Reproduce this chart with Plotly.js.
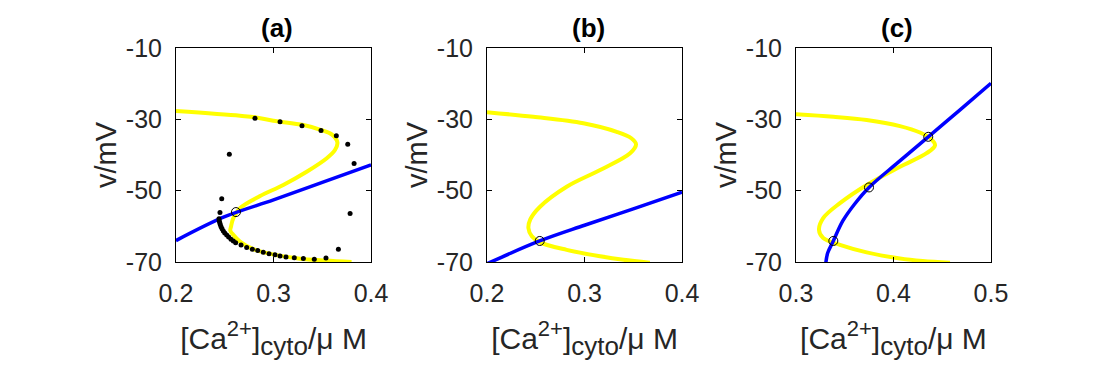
<!DOCTYPE html>
<html>
<head>
<meta charset="utf-8">
<script src="https://cdn.plot.ly/plotly-3.0.1.min.js"></script>
<style>
  html, body { margin: 0; padding: 0; background: #fff; }
  #chart { width: 1104px; height: 372px; }
</style>
</head>
<body>
<div id="chart"></div>
<script>
// axis ticks
const vTicks = [-10, -30, -50, -70];
const vTickText = ['-10', '-30', '-50', '-70'];
const caTicksAB = [0.2, 0.3, 0.4];
const caTicksC = [0.3, 0.4, 0.5];
const panelTitles = ['(a)', '(b)', '(c)'];

// (a) Ca nullcline (yellow), v nullcline (blue), trajectory dots, equilibrium
const yellowA_ca = [0.200, 0.2656, 0.281, 0.2998, 0.3306, 0.349, 0.360, 0.3655, 0.363, 0.3546, 0.334, 0.310, 0.2862, 0.2656, 0.2588, 0.2564, 0.2557, 0.2588, 0.2656, 0.2776, 0.2981, 0.3254, 0.3528, 0.380];
const yellowA_v = [-27.7, -29.0, -29.4, -30.4, -31.6, -33.0, -34.3, -36.5, -38.6, -40.9, -44.7, -48.4, -51.5, -54.9, -57.7, -60.1, -61.2, -62.4, -64.3, -66.2, -67.8, -69.0, -69.6, -70.0];
const blueA_ca = [0.2, 0.25, 0.3, 0.35, 0.4];
const blueA_v = [-64.0, -57.3, -52.6, -47.7, -42.8];
const dotsA_ca = [0.2547, 0.2469, 0.2451, 0.2441, 0.2443, 0.2448, 0.2454, 0.2462, 0.2472, 0.2485, 0.2500, 0.252, 0.2540, 0.2564, 0.2588, 0.2612, 0.2667, 0.2725, 0.2783, 0.2838, 0.2895, 0.2954, 0.3015, 0.3067, 0.3128, 0.3213, 0.3306, 0.3418, 0.3538, 0.3665, 0.3785, 0.3826, 0.3761, 0.3644, 0.3487, 0.3292, 0.3067, 0.281];
const dotsA_v = [-39.8, -52.3, -56.1, -57.9, -58.4, -58.9, -59.5, -60.1, -60.7, -61.3, -61.9, -62.4, -63.0, -63.6, -64.1, -64.6, -65.2, -65.9, -66.4, -66.8, -67.3, -67.7, -68.0, -68.3, -68.6, -68.8, -69.0, -69.2, -68.9, -66.4, -56.4, -42.4, -37.0, -34.6, -33.1, -31.8, -30.7, -29.7];
const eqA_ca = [0.2615];
const eqA_v = [-56.0];

// (b)
const yellowB_ca = [0.200, 0.2475, 0.2988, 0.333, 0.348, 0.3528, 0.3467, 0.316, 0.2817, 0.2544, 0.2445, 0.2425, 0.2460, 0.2544, 0.2817, 0.316, 0.340, 0.367];
const yellowB_v = [-28.0, -29.3, -31.1, -33.5, -35.3, -37.0, -39.5, -44.2, -48.9, -54.5, -58.0, -60.5, -62.8, -64.5, -66.6, -68.4, -69.4, -70.2];
const blueB_ca = [0.2, 0.254, 0.3, 0.35, 0.4];
const blueB_v = [-70.5, -64.1, -59.7, -55.1, -50.4];
const eqB_ca = [0.2541];
const eqB_v = [-64.1];

// (c)
const yellowC_ca = [0.300, 0.3383, 0.3725, 0.4067, 0.4272, 0.4390, 0.4426, 0.434, 0.4067, 0.3725, 0.3451, 0.3279, 0.3236, 0.3279, 0.3451, 0.3725, 0.4067, 0.430, 0.458];
const yellowC_v = [-28.6, -29.3, -30.2, -31.9, -33.7, -35.6, -37.3, -39.5, -43.3, -48.4, -53.5, -57.7, -61.0, -63.3, -65.2, -67.3, -69.0, -69.7, -70.2];
const blueC_ca = [0.3305, 0.3325, 0.3383, 0.348, 0.360, 0.3749, 0.405, 0.4357, 0.468, 0.5];
const blueC_v = [-70.5, -67.5, -64.1, -58.5, -53.8, -49.1, -42.0, -34.9, -27.4, -19.9];
const eqC_ca = [0.3383, 0.3749, 0.4357];
const eqC_v = [-64.1, -49.1, -34.9];

const YELLOW = '#ffff00';
const BLUE = '#0000ff';
const FONT = '"Liberation Sans", Arial, sans-serif';
const X_TITLE = '[Ca<sup><span style="font-size:22px">2+</span></sup>]' +
  '<sub><span style="font-size:26px">cyto</span></sub>/μ M';

function curve(x, y, color, width, ax) {
  return {
    x: x, y: y, xaxis: 'x' + ax, yaxis: 'y' + ax,
    type: 'scatter', mode: 'lines',
    line: { color: color, width: width, shape: 'spline', smoothing: 1 },
    hoverinfo: 'skip', showlegend: false
  };
}
function circles(x, y, ax) {
  return {
    x: x, y: y, xaxis: 'x' + ax, yaxis: 'y' + ax,
    type: 'scatter', mode: 'markers',
    marker: { symbol: 'circle-open', size: 9, color: '#000', line: { width: 1, color: '#000' } },
    showlegend: false
  };
}

const traces = [
  curve(yellowA_ca, yellowA_v, YELLOW, 4, ''),
  curve(blueA_ca, blueA_v, BLUE, 3.5, ''),
  {
    x: dotsA_ca, y: dotsA_v, type: 'scatter', mode: 'markers',
    marker: { color: '#000', size: 5 }, showlegend: false
  },
  circles(eqA_ca, eqA_v, ''),
  curve(yellowB_ca, yellowB_v, YELLOW, 4, '2'),
  curve(blueB_ca, blueB_v, BLUE, 3.5, '2'),
  circles(eqB_ca, eqB_v, '2'),
  curve(yellowC_ca, yellowC_v, YELLOW, 4, '3'),
  curve(blueC_ca, blueC_v, BLUE, 3.5, '3'),
  circles(eqC_ca, eqC_v, '3')
];

function xAxis(dom, ticks, anchor) {
  return {
    domain: dom, anchor: anchor,
    range: [ticks[0], ticks[ticks.length - 1]],
    tickvals: ticks, tickformat: '.1f',
    showline: true, mirror: 'ticks', linecolor: '#000', linewidth: 1,
    ticks: 'inside', ticklen: 5, tickcolor: '#000',
    showgrid: false, zeroline: false,
    tickfont: { size: 25, color: '#262626' },
    ticklabelstandoff: 9,
    title: { text: X_TITLE, font: { size: 30, color: '#262626' }, standoff: 21 }
  };
}
function yAxis(anchor) {
  return {
    domain: [0.2957, 0.8710], anchor: anchor,
    range: [-70, -10], tickvals: vTicks, ticktext: vTickText,
    showline: true, mirror: 'ticks', linecolor: '#000', linewidth: 1,
    ticks: 'inside', ticklen: 5, tickcolor: '#000',
    showgrid: false, zeroline: false,
    tickfont: { size: 25, color: '#262626' },
    ticklabelstandoff: 8,
    title: { text: 'v/mV', font: { size: 29, color: '#262626' }, standoff: 0 }
  };
}

const annotations = ['', '2', '3'].map((ax, i) => ({
  text: '<b>' + panelTitles[i] + '</b>',
  xref: 'x' + ax + ' domain', yref: 'y' + ax + ' domain',
  x: 0.52, y: 1, xanchor: 'center', yanchor: 'bottom', yshift: 3,
  showarrow: false, font: { size: 26, color: '#000' }
}));

const layout = {
  width: 1104, height: 372,
  margin: { l: 0, r: 0, t: 0, b: 0 },
  paper_bgcolor: '#fff', plot_bgcolor: '#fff',
  font: { family: FONT },
  showlegend: false,
  xaxis: xAxis([0.1594, 0.3361], caTicksAB, 'y'),
  yaxis: yAxis('x'),
  xaxis2: xAxis([0.4411, 0.6178], caTicksAB, 'y2'),
  yaxis2: yAxis('x2'),
  xaxis3: xAxis([0.7210, 0.8976], caTicksC, 'y3'),
  yaxis3: yAxis('x3'),
  annotations: annotations
};

Plotly.newPlot('chart', traces, layout, { staticPlot: true });
</script>
</body>
</html>
